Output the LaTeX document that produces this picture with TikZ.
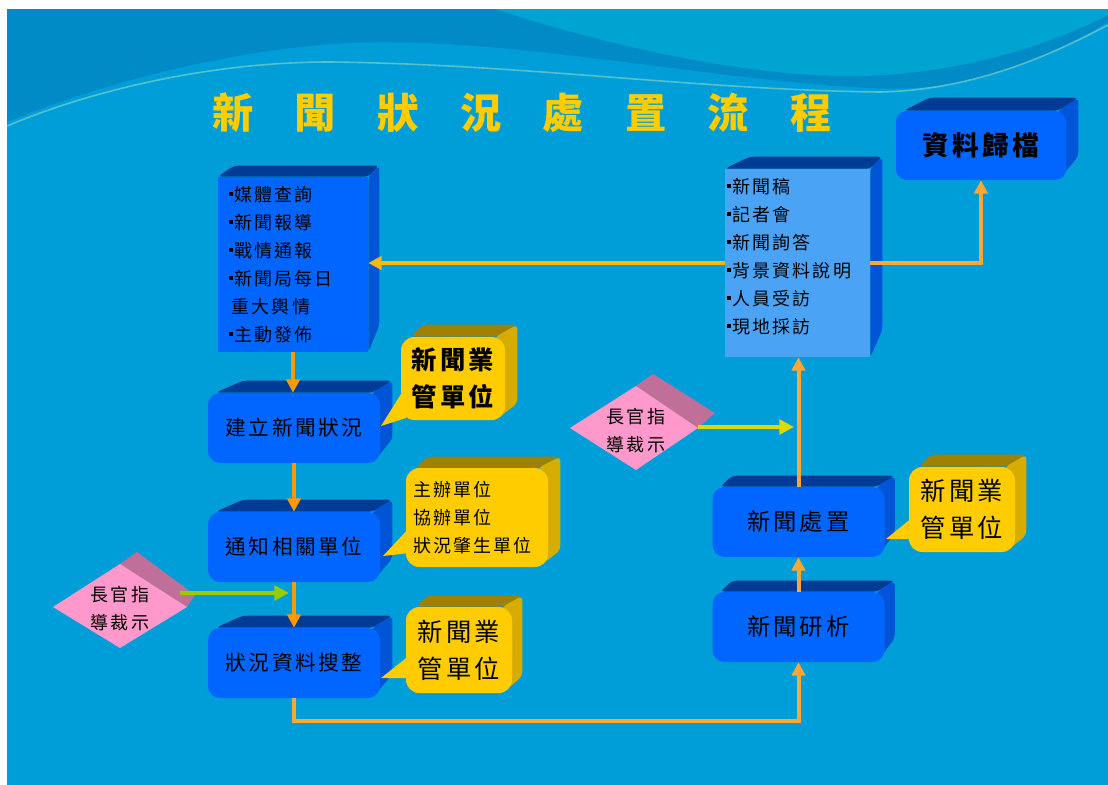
\documentclass[tikz,border=0pt]{standalone}
\usepackage{fontspec}
\setmainfont{Noto Sans CJK TC}
\newfontfamily\cjk[LetterSpace=12]{Noto Sans CJK TC}
\newfontfamily\cjkt{Noto Sans CJK TC}
\usetikzlibrary{arrows.meta,calc}
\definecolor{bgmain}{RGB}{0,158,216}
\definecolor{bgdark}{RGB}{0,138,198}
\definecolor{bgteal}{RGB}{0,164,208}
\definecolor{waveline}{RGB}{120,210,200}
\definecolor{boxfront}{RGB}{0,102,255}
\definecolor{boxtop}{RGB}{0,60,150}
\definecolor{boxside}{RGB}{0,85,215}
\definecolor{lightfront}{RGB}{74,163,245}
\definecolor{cyellow}{RGB}{255,204,0}
\definecolor{goldtop}{RGB}{160,128,0}
\definecolor{goldside}{RGB}{215,172,0}
\definecolor{dpink}{RGB}{255,153,204}
\definecolor{mauve}{RGB}{192,112,152}
\definecolor{greenar}{RGB}{153,204,0}
\definecolor{yellowar}{RGB}{222,218,0}
\definecolor{orangeA}{RGB}{255,153,0}
\definecolor{orangeB}{RGB}{255,166,51}
\definecolor{goldA}{RGB}{255,186,0}
\definecolor{titlegold}{RGB}{255,204,0}
\pgfdeclarelayer{bg}
\pgfdeclarelayer{faces}
\pgfsetlayers{bg,faces,main}
\newcommand\bul{\rule[0.28em]{3pt}{3pt}\hspace{1pt}}
\newcommand\dn[2]{\raisebox{-#1}{#2}}
% #1 node, #2 start offset, #3 dx left, #4 dx right, #5 dy, #6 side bottom offset, #7 top colour, #8 side colour
\newcommand\boxfaces[8]{%
  \begin{pgfonlayer}{faces}
  \fill[#7,rounded corners=3pt] ($(#1.north west)+(#2,0)$) -- ($(#1.north west)+(#3,-#5)$) -- ($(#1.north east)+(#4,-#5)$) -- ($(#1.north east)+(-#2,0)$) -- cycle;
  \fill[#8,rounded corners=3pt] ($(#1.north east)+(-#2,0)$) -- ($(#1.north east)+(#4,-#5)$) -- ($(#1.south east)+(#4,-#6)$) -- ($(#1.south east)+(-#2,0)$) -- cycle;
  \end{pgfonlayer}}
\tikzset{
  bluebox/.style={fill=boxfront, rounded corners=9pt, minimum width=129pt, minimum height=52.5pt,
    font=\cjk\fontsize{15.5}{18}\selectfont, inner sep=0pt},
  bigtext/.style={font=\cjk\fontsize{17.5}{20}\selectfont},
  listbox/.style={font=\cjk\fontsize{13.5}{21}\selectfont, align=left, inner ysep=0pt},
  callout/.style={fill=cyellow, rounded corners=10pt, inner sep=0pt, align=center,
    font=\cjk\fontsize{19}{28}\selectfont},
  diamtext/.style={font=\cjk\fontsize{13.5}{21}\selectfont, align=center, inner sep=0pt},
  arrA/.style={draw=orangeA, line width=3pt, -{Triangle[length=10pt,width=10pt]}},
  arrB/.style={draw=orangeB, line width=3pt, -{Triangle[length=10pt,width=10pt]}},
  arrG/.style={draw=goldA, line width=3pt, -{Triangle[length=10pt,width=10pt]}},
  arrGreen/.style={draw=greenar, line width=3pt, -{Triangle[length=11pt,width=11pt]}},
  arrYellow/.style={draw=yellowar, line width=3pt, -{Triangle[length=11pt,width=11pt]}},
}
\begin{document}
\begin{tikzpicture}[x=0.75pt,y=-0.75pt]
\useasboundingbox (0,0) rectangle (1108,785);
\begin{pgfonlayer}{bg}
\fill[white] (0,0) rectangle (1108,785);
\fill[bgmain] (7,9) rectangle (1108,785);
\fill[bgdark] (7,9) -- (1108,9) -- (1108,22) .. controls (1020,75) and (950,92) .. (870,88) .. controls (700,80) and (480,30) .. (320,45) .. controls (180,58) and (60,100) .. (7,122) -- cycle;
\fill[bgteal] (495,9) .. controls (620,50) and (760,78) .. (860,76) .. controls (960,74) and (1050,45) .. (1108,15) -- (1108,9) -- cycle;
\draw[waveline, line width=1.2pt, opacity=.7] (7,126) .. controls (80,95) and (200,62) .. (330,62) .. controls (520,64) and (700,90) .. (880,92) .. controls (980,90) and (1060,50) .. (1108,25);
\end{pgfonlayer}

% title
\node[font=\cjkt\bfseries\fontsize{31}{31}\selectfont, text=titlegold, inner sep=0pt] (title) at (522,113)
  {新\hspace{31pt}聞\hspace{31pt}狀\hspace{31pt}況\hspace{31pt}處\hspace{31pt}置\hspace{31pt}流\hspace{31pt}程};

% list boxes
\node[listbox, fill=boxfront, text width=96pt, inner xsep=8.25pt, minimum height=131.25pt] (la) at (293,264.5)
  {\bul 媒體查詢\\ \bul 新聞報導\\ \bul 戰情通報\\ \bul 新聞局每日\\ \hspace{2pt}重大輿情\\ \bul 主動發佈};
\boxfaces{la}{0}{16}{11}{11}{27}{boxtop}{boxside}

\node[fill=lightfront, minimum width=108.75pt, minimum height=141pt, inner sep=0pt] (lb) at (797.5,263) {};
\node[listbox, text width=105.75pt, inner xsep=1.5pt] (lbt) at (797.5,256.5)
  {\bul 新聞稿\\ \bul 記者會\\ \bul 新聞詢答\\ \bul 背景資料說明\\ \bul 人員受訪\\ \bul 現地採訪};
\boxfaces{lb}{0}{25}{12}{12}{27}{boxtop}{boxside}

% archive
\node[bluebox, minimum width=127.5pt, minimum height=51.75pt, rounded corners=8pt,
  font=\cjk\bfseries\fontsize{20}{24}\selectfont] (arc) at (981,145.5) {資料歸檔};
\boxfaces{arc}{8}{34}{12}{13}{24}{boxtop}{boxside}

% flow boxes
\node[bluebox] (n1) at (294,428) {建立新聞狀況};
\boxfaces{n1}{8}{35}{12}{12}{24}{boxtop}{boxside}
\node[bluebox] (n2) at (294,547) {通知相關單位};
\boxfaces{n2}{8}{35}{12}{12}{24}{boxtop}{boxside}
\node[bluebox] (n3) at (294,663) {\dn{3.5pt}{狀況資料搜整}};
\boxfaces{n3}{8}{35}{12}{12}{24}{boxtop}{boxside}
\node[bluebox, bigtext] (n4) at (798.5,522) {新聞處置};
\boxfaces{n4}{8}{20}{10}{11}{24}{boxtop}{boxside}
\node[bluebox, bigtext] (n5) at (798.5,627) {新聞研析};
\boxfaces{n5}{8}{20}{10}{11}{24}{boxtop}{boxside}

% callouts
\node[callout, minimum width=78pt, minimum height=62.25pt, font=\cjk\bfseries\fontsize{19}{28}\selectfont] (k1) at (453,378.5) {\dn{3.75pt}{新聞業}\\\dn{3.75pt}{管單位}};
\boxfaces{k1}{10}{22}{12}{12}{17}{goldtop}{goldside}
\coordinate (k1t) at (381,426);
\coordinate (k1a) at (406,386);
\coordinate (k1b) at (406,418);
\fill[cyellow] (k1a) -- (k1t) -- (k1b) -- cycle;

\node[callout, minimum width=106.5pt, minimum height=74.25pt, align=left, text width=96pt, inner xsep=5.25pt,
  font=\cjk\fontsize{13.5}{21}\selectfont] (k2) at (477,517.5) {主辦單位\\協辦單位\\狀況肇生單位};
\boxfaces{k2}{10}{22}{12}{11}{17}{goldtop}{goldside}
\coordinate (k2t) at (383,556);
\coordinate (k2a) at (410,527);
\coordinate (k2b) at (410,553);
\fill[cyellow] (k2a) -- (k2t) -- (k2b) -- cycle;

\node[callout, minimum width=79.5pt, minimum height=64.5pt] (k3) at (459,650) {\dn{2.6pt}{新聞業}\\\dn{2.6pt}{管單位}};
\boxfaces{k3}{10}{22}{10}{11}{17}{goldtop}{goldside}
\coordinate (k3t) at (381,678);
\coordinate (k3a) at (410,655);
\coordinate (k3b) at (410,678);
\fill[cyellow] (k3a) -- (k3t) -- (k3b) -- cycle;

\node[callout, minimum width=79.5pt, minimum height=63.75pt] (k4) at (962,509.5) {\dn{3.75pt}{新聞業}\\\dn{3.75pt}{管單位}};
\boxfaces{k4}{10}{22}{11}{12}{17}{goldtop}{goldside}
\coordinate (k4t) at (886,539);
\coordinate (k4a) at (913,517);
\coordinate (k4b) at (913,539);
\fill[cyellow] (k4a) -- (k4t) -- (k4b) -- cycle;

% diamonds
\coordinate (d1c) at (120,607);
\fill[mauve] ($(d1c)+(0,-43)$) -- ++(17,-12) -- ($(d1c)+(75,-12)$) -- ($(d1c)+(67,0)$) -- cycle;
\fill[dpink] ($(d1c)+(-67,0)$) -- ($(d1c)+(0,-43)$) -- ($(d1c)+(67,0)$) -- ($(d1c)+(0,41)$) -- cycle;
\node[diamtext] (d1) at (120,609) {長官指\\導裁示};

\coordinate (d2c) at (634,428);
\fill[mauve] ($(d2c)+(2,-42)$) -- ++(17,-12) -- ($(d2c)+(81,-15)$) -- ($(d2c)+(64,0)$) -- cycle;
\fill[dpink] ($(d2c)+(-64,0)$) -- ($(d2c)+(2,-42)$) -- ($(d2c)+(64,0)$) -- ($(d2c)+(2,42)$) -- cycle;
\node[diamtext] (d2) at (636,431) {長官指\\導裁示};

% connectors
\draw[arrA] (la.south) -- (la.south |- n1.north);
\draw[arrA] (n1.south) -- (n2.north);
\draw[arrA] (n2.south) -- (n3.north);
\draw[arrB] (n3.south) -- ++(0,23) -| (n5.south);
\draw[arrB] (n5.north) -- (n4.south);
\draw[arrB] (n4.north) -- (n4.north |- lb.south);
\draw[arrG] (lb.west) -- (lb.west -| la.east);
\draw[arrB] (lb.east) -| (arc.south);
\coordinate (g1s) at (180,593);
\coordinate (g1e) at (289,593);
\draw[arrGreen] (g1s) -- (g1e);
\coordinate (g2s) at (698,427);
\coordinate (g2e) at (794,427);
\draw[arrYellow] (g2s) -- (g2e);
\end{tikzpicture}
\end{document}
